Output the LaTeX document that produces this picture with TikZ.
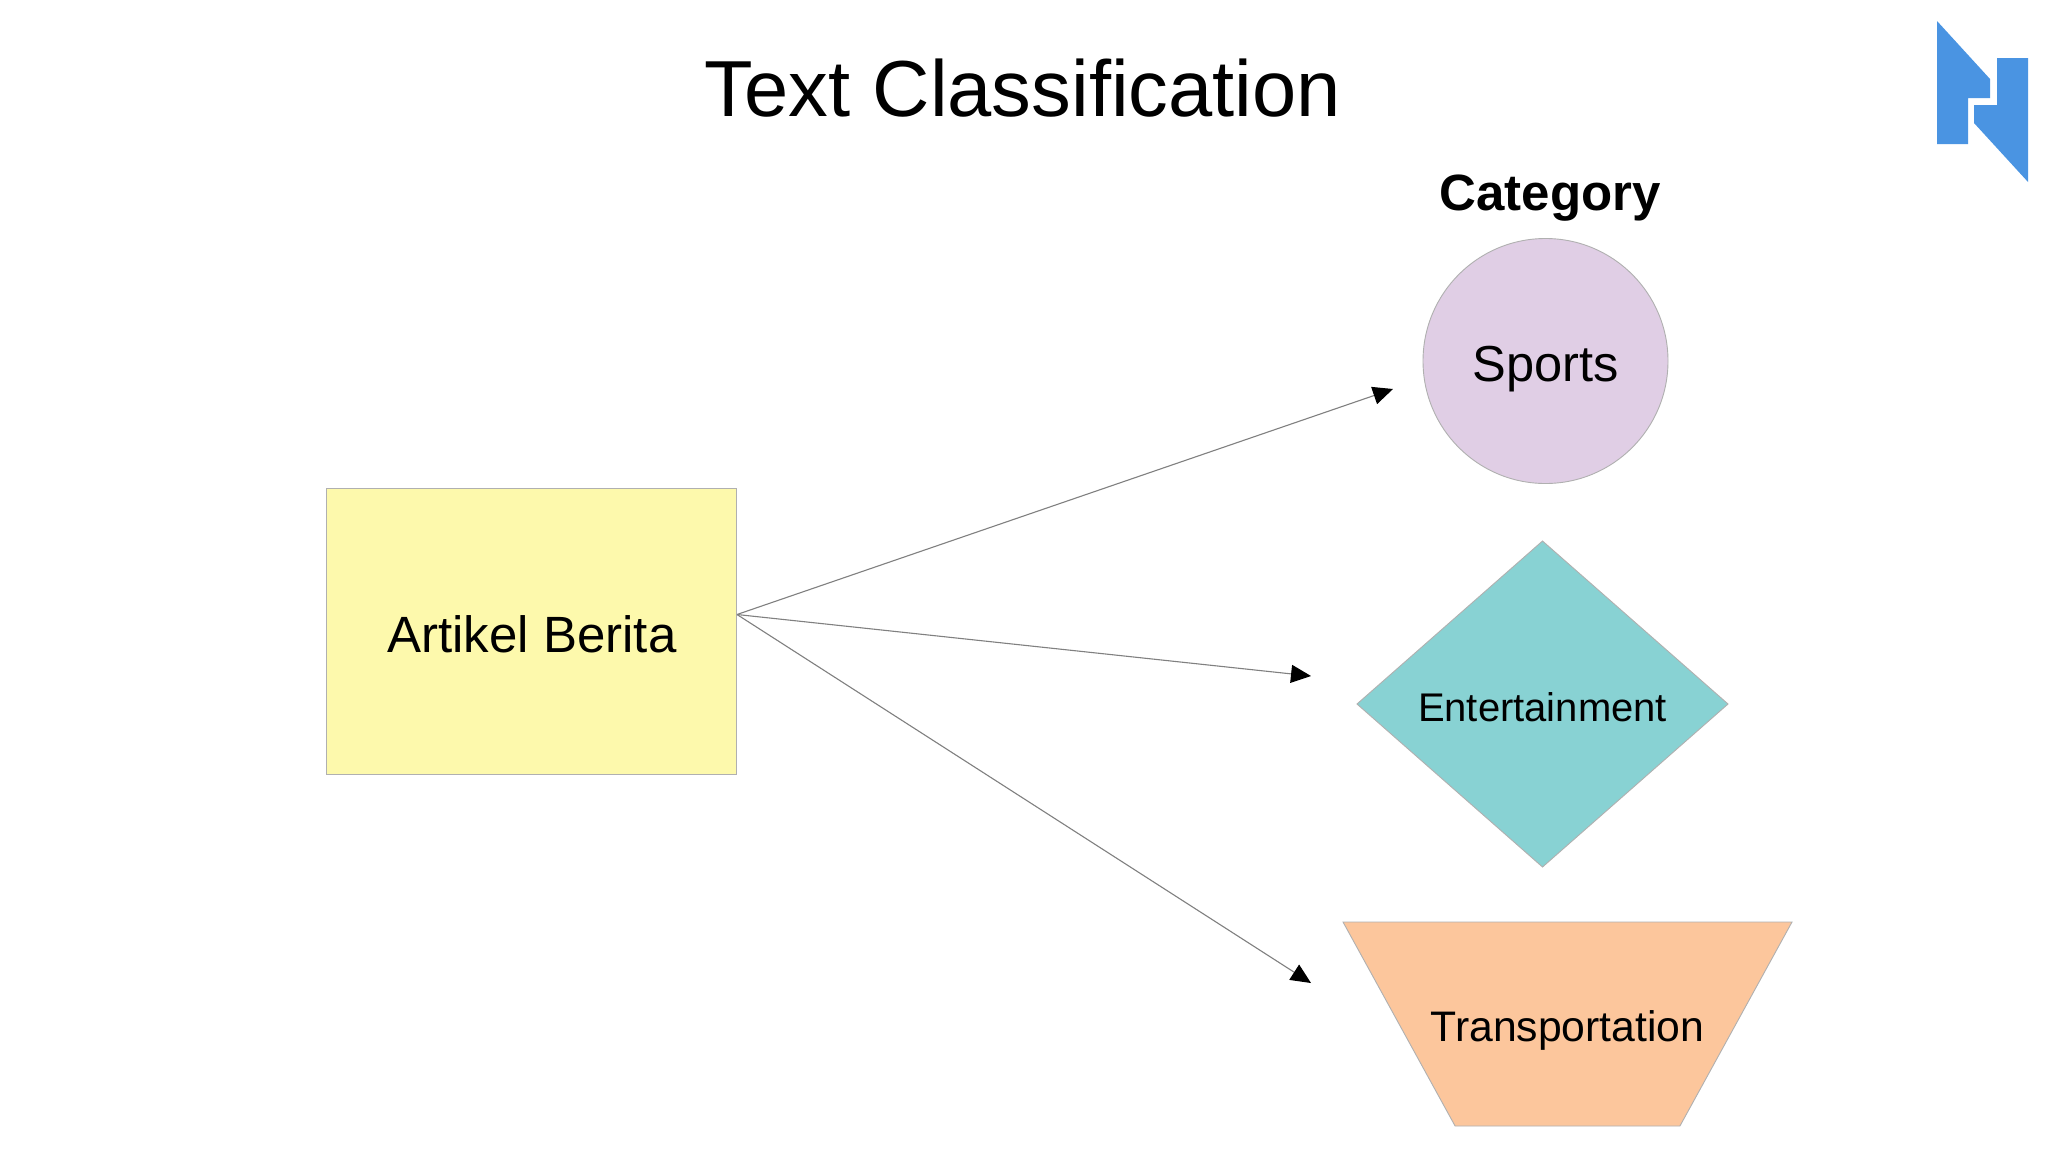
\documentclass[tikz,border=0pt]{standalone}
\usepackage{fontspec}
\setmainfont{Liberation Sans}
\usetikzlibrary{shapes.geometric,arrows.meta}
\definecolor{cyellow}{HTML}{FDF9AC}
\definecolor{cpurple}{HTML}{E0CEE5}
\definecolor{cteal}{HTML}{88D2D3}
\definecolor{corange}{HTML}{FCC69C}
\definecolor{clogo}{HTML}{4A94E2}
\definecolor{cedge}{HTML}{B0B0B0}
\definecolor{cline}{HTML}{808080}
\tikzset{
  shapebox/.style={draw=cedge,line width=0.9pt,inner sep=1pt,outer sep=0pt},
  labeltext/.style={anchor=base,inner sep=0pt,text=black},
  flow/.style={draw=cline,line width=1.1pt,-{Triangle[length=20pt,width=18pt,color=black]}},
  logopart/.style={fill=clogo,draw=none}
}
\begin{document}
\begin{tikzpicture}[x=1pt,y=-1pt]
\useasboundingbox[fill=white] (0,0) rectangle (2048,1152);
\node[labeltext,font=\fontsize{79.5}{90}\selectfont] (title) at (1023,116) {Text Classification};
\node[labeltext,font=\fontsize{51}{60}\selectfont\bfseries] (cat) at (1550,210) {Category};
\node[shapebox,rectangle,fill=cyellow,minimum width=410pt,minimum height=286pt] (art) at (531.5,631) {};
\node[shapebox,circle,fill=cpurple,minimum size=245pt] (sports) at (1545.5,361) {};
\node[shapebox,diamond,fill=cteal,minimum width=371pt,minimum height=326pt,aspect=1.14] (ent) at (1542.5,704) {};
\node[shapebox,trapezium,trapezium stretches=true,shape border rotate=180,trapezium angle=63.5,fill=corange,minimum width=449pt,minimum height=204pt] (trans) at (1567.5,1024) {};
\node[labeltext,font=\fontsize{51}{60}\selectfont] (artt) at (532,652) {Artikel Berita};
\node[labeltext,font=\fontsize{50.6}{60}\selectfont] (sportst) at (1546,381.5) {Sports};
\node[labeltext,font=\fontsize{40}{48}\selectfont] (entt) at (1542.5,721) {Entertainment};
\node[labeltext,font=\fontsize{42.7}{50}\selectfont] (transt) at (1567.5,1041) {Transportation};
\coordinate (src) at (737,614.5);
\coordinate (tipa) at (1393,389);
\coordinate (tipb) at (1311,676);
\coordinate (tipc) at (1311,983);
\draw[flow] (src) -- (tipa);
\draw[flow] (src) -- (tipb);
\draw[flow] (src) -- (tipc);
\fill[logopart] (1937,21) -- (1990,79) -- (1990,98) -- (1968,98) -- (1968,144) -- (1937,144) -- cycle;
\fill[logopart] (1997,58) -- (2028,58) -- (2028,182) -- (1974,123) -- (1974,105) -- (1997,105) -- cycle;
\end{tikzpicture}
\end{document}
